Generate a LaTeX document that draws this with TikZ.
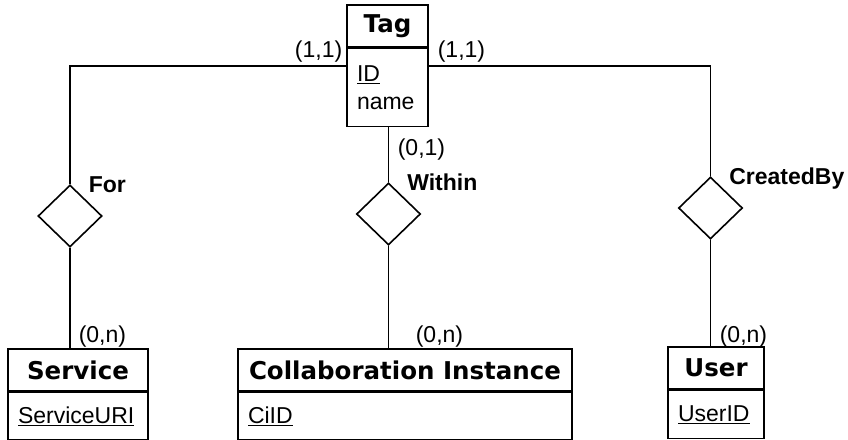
\documentclass[tikz,border=0pt]{standalone}
\usepackage{fontspec}
\setmainfont{Liberation Sans}
\newfontfamily\entfont{DejaVu Sans}
\usetikzlibrary{shapes.geometric,positioning}

\begin{document}
\begin{tikzpicture}[x=1pt,y=-1pt,line width=1.6pt,
    entity/.style={draw, minimum height=42pt, inner sep=0pt,
      font=\entfont\bfseries\fontsize{24.5}{28}\selectfont},
    attrs/.style={draw, inner xsep=10pt, inner ysep=0pt, align=left,
      font=\fontsize{23}{28}\selectfont},
    relation/.style={draw, diamond, minimum width=64pt, minimum height=62pt, inner sep=0pt},
    rname/.style={anchor=base west, inner sep=0pt, font=\bfseries\fontsize{23}{28}\selectfont},
    card/.style={inner sep=0pt, font=\fontsize{23}{28}\selectfont}]
    \useasboundingbox (0,0) rectangle (848,439);

    % Entitaet oben
    \node[entity, minimum width=81pt] (tag) at (387.5,26) {Tag};
    \node[attrs, text width=61pt, minimum height=78pt, below=0pt of tag] (tagattr) {\underline{ID}\\name};

    % Entitaeten unten
    \node[entity, minimum width=140pt] (service) at (78,370) {Service};
    \node[attrs, text width=120pt, minimum height=47pt, below=0pt of service] (serviceattr) {\underline{ServiceURI}};
    \node[entity, minimum width=334pt] (collab) at (405,370) {Collaboration Instance};
    \node[attrs, text width=314pt, minimum height=47pt, below=0pt of collab] (collabattr) {\underline{CiID}};
    \node[entity, minimum width=96pt] (user) at (716,368) {User};
    \node[attrs, text width=76pt, minimum height=48pt, below=0pt of user] (userattr) {\underline{UserID}};

    % Beziehungen
    \node[relation] (for) at (70,216) {};
    \node[relation] (within) at (388.5,214) {};
    \node[relation] (createdby) at (710.5,208) {};
    \node[rname] (forname) at ([xshift=18pt,yshift=-8pt]for.north) {For};
    \node[rname] (withinname) at ([xshift=18pt,yshift=-8.5pt]within.north) {Within};
    \node[rname] (createdbyname) at ([xshift=18pt,yshift=-8pt]createdby.north) {CreatedBy};

    % Verbindungen
    \draw ([yshift=-18pt]tagattr.north west) -| (for.north);
    \draw ([yshift=-18pt]tagattr.north east) -| (createdby.north);
    \draw (within.north |- tagattr.south) -- (within.north);
    \draw (for.south) -- (for.south |- service.north);
    \draw (within.south) -- (within.south |- collab.north);
    \draw (createdby.south) -- (createdby.south |- user.north);

    % Kardinalitaeten
    \node[card, anchor=base east] (c-tag-for) at (343,57) {(1,1)};
    \node[card, anchor=base west] (c-tag-by) at (437,57) {(1,1)};
    \node[card, anchor=base west] (c-tag-in) at (397,155) {(0,1)};
    \node[card, anchor=base west] (c-service) at (78,342) {(0,n)};
    \node[card, anchor=base west] (c-collab) at (415,342) {(0,n)};
    \node[card, anchor=base west] (c-user) at (719,342) {(0,n)};
\end{tikzpicture}
\end{document}
